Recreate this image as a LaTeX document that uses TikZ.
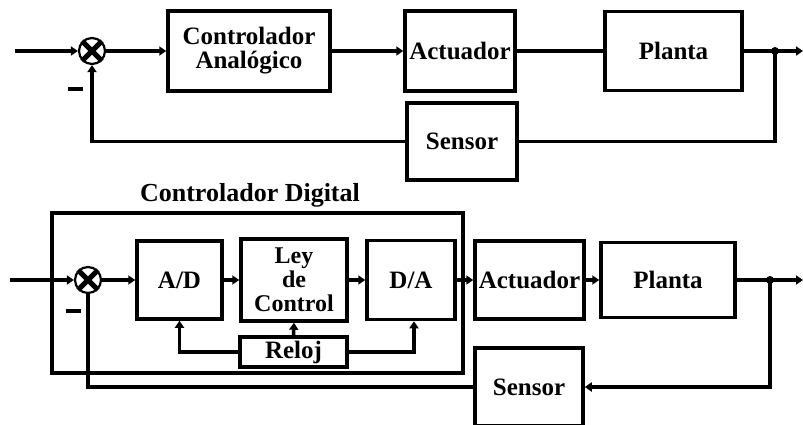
\documentclass[tikz,border=0pt]{standalone}
\usepackage{fontspec}
\setmainfont{Liberation Serif}
\usetikzlibrary{arrows.meta}
\begin{document}
\begin{tikzpicture}[x=1pt,y=-1pt,
  blk/.style={draw,line width=3.5pt,inner sep=0pt,align=center,
    font=\fontsize{25}{24}\selectfont\bfseries},
  conn/.style={line width=3.5pt},
  arr/.style={line width=3.5pt,-{Triangle[length=7pt,width=9pt]}},
  sumj/.style={circle,draw,line width=2.2pt,minimum size=26pt,inner sep=0pt},
  dotn/.style={circle,fill,minimum size=8pt,inner sep=0pt},
  lbl/.style={font=\fontsize{26}{26}\selectfont\bfseries},
  minus/.style={inner sep=0pt}]
\useasboundingbox (0,0) rectangle (803,425);
\clip (0,0) rectangle (803,425);
% ---------- top loop ----------
\node[sumj] (s1) at (92,51) {};
\draw[line width=5pt] (s1.45) -- (s1.225) (s1.135) -- (s1.-45);
\node[blk,minimum width=162pt,minimum height=80pt] (ca) at (249,51) {Controlador\\Analógico};
\node[blk,minimum width=110pt,minimum height=80pt] (act1) at (460,51) {Actuador};
\node[blk,minimum width=137pt,minimum height=79pt] (pl1) at (673.5,51) {Planta};
\node[blk,minimum width=110pt,minimum height=77pt] (sen1) at (462,141.5) {Sensor};
\node[dotn] (d1) at (775,51) {};
\coordinate (in1) at (15,51);
\coordinate (out1) at (803,51);
\node[minus] (m1) at (75,89) {\rule{15pt}{4pt}};
\draw[arr] (in1) -- (s1.west);
\draw[arr] (s1.east) -- (ca.west);
\draw[arr] (ca.east) -- (act1.west);
\draw[conn] (act1.east) -- (pl1.west);
\draw[arr] (pl1.east) -- (out1);
\draw[conn] (d1.center) |- (sen1.east);
\draw[arr] (sen1.west) -| (s1.south);
% ---------- bottom loop ----------
\node[lbl] (title) at (250,195) {Controlador Digital};
\node[draw,line width=3.5pt,minimum width=411pt,minimum height=160pt,inner sep=0pt] (cd) at (257.5,293) {};
\node[sumj] (s2) at (88,280) {};
\draw[line width=5pt] (s2.45) -- (s2.225) (s2.135) -- (s2.-45);
\node[blk,minimum width=85pt,minimum height=78pt] (ad) at (179.5,280) {A/D};
\node[blk,minimum width=106pt,minimum height=82pt,font=\fontsize{24}{24}\selectfont\bfseries] (ley) at (294,280) {Ley\\de\\Control};
\node[blk,minimum width=88pt,minimum height=79pt] (da) at (411,280) {D/A};
\node[blk,minimum width=107pt,minimum height=30pt] (rel) at (293.5,352) {Reloj};
\node[blk,minimum width=109pt,minimum height=78pt] (act2) at (529.5,280) {Actuador};
\node[blk,minimum width=134pt,minimum height=75pt] (pl2) at (668,280) {Planta};
\node[blk,minimum width=108pt,minimum height=78pt] (sen2) at (529,387) {Sensor};
\node[dotn] (d2) at (770,280) {};
\coordinate (in2) at (10,280);
\coordinate (out2) at (803,280);
\node[minus] (m2) at (73,311) {\rule{15pt}{4pt}};
\draw[arr] (in2) -- (s2.west);
\draw[arr] (s2.east) -- (ad.west);
\draw[arr] (ad.east) -- (ley.west);
\draw[arr] (ley.east) -- (da.west);
\draw[arr] (da.east) -- (act2.west);
\draw[arr] (act2.east) -- (pl2.west);
\draw[arr] (pl2.east) -- (out2);
\draw[arr] (d2.center) |- (sen2.east);
\draw[conn] (sen2.west) -| (s2.south);
\draw[arr] (rel.west) -| (ad.south);
\draw[arr] (rel.north) -- (ley.south);
\draw[arr] (rel.east) -| ([xshift=3pt]da.south);
\end{tikzpicture}
\end{document}
